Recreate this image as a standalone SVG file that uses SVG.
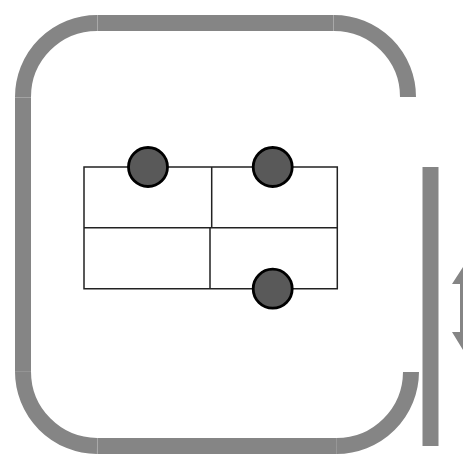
<svg xmlns="http://www.w3.org/2000/svg" width="463" height="464" viewBox="0 0 463 464">
<style>
.wall{fill:none;stroke:#858585;stroke-width:16}
.fill{fill:#858585}
.line{stroke:#222;stroke-width:1.5;fill:none}
.dot{fill:#595959;stroke:#000;stroke-width:2.8}
</style>
<rect width="463" height="464" fill="#fff"/>
<g id="enclosure">
<path class="wall" d="M97 23A74 74 0 0 0 23 97"/>
<path class="wall" d="M97.3 23H333.7"/>
<path class="wall" d="M334 23A74 74 0 0 1 408 97"/>
<path class="wall" d="M23 97.3V371.7"/>
<path class="wall" d="M23 371.5A74.5 74.5 0 0 0 97 446"/>
<path class="wall" d="M97.3 446H336.7"/>
<path class="wall" d="M336.5 446A74.5 74.5 0 0 0 411 372"/>
</g>
<g id="side-bar"><rect class="fill" x="422.5" y="167" width="16" height="279"/></g>
<g id="arrow"><polygon class="fill" points="463,267 452,284 460,284 460,332 452,332 463,350"/></g>
<g id="connectors">
<path class="line" d="M84 167H337.3V288.7H84ZM84 227.7H337.3M211.7 167V227.7M210 227.7V288.7"/>
</g>
<g id="node-1"><circle class="dot" cx="148" cy="167" r="19.5"/></g>
<g id="node-2"><circle class="dot" cx="272.7" cy="167" r="19.5"/></g>
<g id="node-3"><circle class="dot" cx="272.7" cy="288.7" r="19.5"/></g>
</svg>
